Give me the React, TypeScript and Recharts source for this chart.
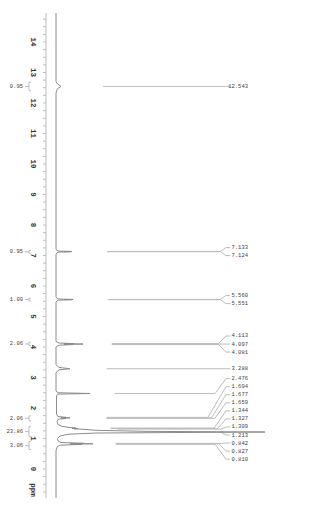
import React from "react";
import {
  ReferenceDot,
  ReferenceLine,
  Scatter,
  ScatterChart,
  XAxis,
  YAxis,
} from "recharts";

// spectrum trace: [ppm, intensity]
const trace: [number, number][] = [
  [14.95, 0], [12.7, 0], [12.62, 1.5], [12.57, 4], [12.543, 5], [12.52, 4], [12.47, 1.5], [12.4, 0.5], [12.3, 0],
  [7.2, 0], [7.145, 2], [7.133, 16], [7.128, 8], [7.124, 15], [7.11, 2], [7.05, 0],
  [5.63, 0], [5.575, 2], [5.56, 17], [5.555, 8], [5.551, 16], [5.535, 2], [5.48, 0],
  [4.18, 0], [4.13, 3], [4.113, 18], [4.105, 8], [4.097, 27], [4.089, 8], [4.081, 17], [4.06, 3], [4.0, 0],
  [3.42, 0], [3.33, 3], [3.288, 14], [3.25, 3], [3.16, 0],
  [2.56, 0], [2.5, 2], [2.476, 34], [2.455, 2], [2.4, 0.5],
  [1.8, 0.5], [1.72, 2], [1.694, 10], [1.686, 5], [1.677, 14], [1.668, 5], [1.659, 10], [1.63, 2], [1.55, 1],
  [1.46, 2], [1.4, 6], [1.36, 14], [1.344, 20], [1.336, 16], [1.327, 22], [1.318, 18], [1.309, 24],
  [1.27, 40], [1.235, 90], [1.213, 209], [1.198, 130], [1.18, 40], [1.14, 12], [1.08, 4], [1.0, 1.5],
  [0.92, 2], [0.87, 5], [0.842, 28], [0.835, 14], [0.827, 37], [0.819, 14], [0.81, 26], [0.78, 4], [0.72, 1], [0.6, 0],
  [-0.95, 0],
];

const peakPpm = [
  12.543, 7.133, 7.124, 5.56, 5.551, 4.113, 4.097, 4.081, 3.288, 2.476,
  1.694, 1.677, 1.659, 1.344, 1.327, 1.309, 1.213, 0.842, 0.827, 0.81,
];

const integralFrom = [12.68, 7.16, 5.6, 4.16, 1.74, 1.4, 0.9];
const integralTo = [12.4, 7.08, 5.51, 4.04, 1.58, 1.06, 0.64];
const integralValues = ["0.95", "0.95", "1.00", "2.06", "2.06", "23.86", "3.06"];

const majorTicks = [0, 1, 2, 3, 4, 5, 6, 7, 8, 9, 10, 11, 12, 13, 14];

const GAP = 0.264; // label spacing in ppm
const LINE = "#bdbdbd";
const FONT = "Liberation Mono, DejaVu Sans Mono, monospace";

const spectrum = trace.map(([ppm, i]) => ({ x: i, y: ppm }));

const ticks: number[] = [];
for (let t = -0.75; t <= 14.75; t += 0.25) ticks.push(Math.round(t * 100) / 100);

// group labels that would overlap and centre each group on its peaks
function layoutLabels(ppms: number[]) {
  let groups = ppms.map((p) => [p]);
  const top = (g: number[]) => (g[0] + g[g.length - 1]) / 2 + ((g.length - 1) * GAP) / 2;
  let merged = true;
  while (merged) {
    merged = false;
    for (let i = 0; i < groups.length - 1; i++) {
      const a = groups[i];
      const b = groups[i + 1];
      const aBottom = top(a) - (a.length - 1) * GAP;
      if (aBottom - top(b) < GAP) {
        groups = [...groups.slice(0, i), [...a, ...b], ...groups.slice(i + 2)];
        merged = true;
        break;
      }
    }
  }
  const out: number[] = [];
  groups.forEach((g) => g.forEach((_, k) => out.push(top(g) - k * GAP)));
  return out;
}

const labelPpm = layoutLabels(peakPpm);

function localMax(ppm: number) {
  let m = 0;
  trace.forEach(([p, i]) => {
    if (Math.abs(p - ppm) <= 0.04) m = Math.max(m, i);
  });
  return m;
}

const PpmTick = (props: any) => {
  const { x, y, payload } = props;
  if (!majorTicks.includes(payload.value)) return <g />;
  const cx = x - 8;
  return (
    <text
      x={cx}
      y={y}
      transform={`rotate(90, ${cx}, ${y})`}
      textAnchor="middle"
      dominantBaseline="central"
      fontSize={7.5}
      fontFamily={FONT}
      fontWeight="bold"
      fill="#333"
    >
      {payload.value}
    </text>
  );
};

const PpmLabel = (props: any) => {
  const vb = props.viewBox;
  const cx = vb.x + vb.width - 13;
  const cy = vb.y + vb.height - 8;
  return (
    <text
      x={cx}
      y={cy}
      transform={`rotate(90, ${cx}, ${cy})`}
      textAnchor="middle"
      dominantBaseline="central"
      fontSize={7.5}
      fontFamily={FONT}
      fontWeight="bold"
      fill="#333"
    >
      ppm
    </text>
  );
};

const smallText = (text: string) => (p: any) => (
  <text
    x={p.cx}
    y={p.cy}
    textAnchor="end"
    dominantBaseline="central"
    fontSize={5.5}
    fontFamily={FONT}
    fill="#444"
  >
    {text}
  </text>
);

export default function App() {
  return (
    <div style={{ position: "absolute", left: 0, top: 0, width: 324, height: 517 }}>
      <ScatterChart
        width={324}
        height={517}
        margin={{ top: 13, right: 8, bottom: 19, left: 0 }}
      >
        <XAxis type="number" dataKey="x" domain={[-10, 260]} hide allowDataOverflow />
        <YAxis
          type="number"
          dataKey="y"
          domain={[-0.95, 14.95]}
          ticks={ticks}
          interval={0}
          width={46}
          tickSize={3}
          tickLine={{ stroke: LINE }}
          axisLine={{ stroke: LINE }}
          tick={<PpmTick />}
          label={{ value: "ppm", content: PpmLabel }}
          allowDataOverflow
        />

        {/* integral brackets on the left */}
        {integralValues.map((v, i) => {
          const from = integralFrom[i];
          const to = integralTo[i];
          const mid = (from + to) / 2;
          return (
            <React.Fragment key={"int" + i}>
              <ReferenceLine ifOverflow="visible" stroke={LINE} segment={[{ x: -27, y: from }, { x: -27, y: to }]} />
              <ReferenceLine ifOverflow="visible" stroke={LINE} segment={[{ x: -27, y: from }, { x: -25, y: from }]} />
              <ReferenceLine ifOverflow="visible" stroke={LINE} segment={[{ x: -27, y: to }, { x: -25, y: to }]} />
              <ReferenceLine ifOverflow="visible" stroke={LINE} segment={[{ x: -31, y: mid }, { x: -27, y: mid }]} />
              <ReferenceDot ifOverflow="visible" x={-33} y={mid} r={0} shape={smallText(v)} />
            </React.Fragment>
          );
        })}

        {/* peak pick connectors and labels */}
        {peakPpm.map((p, i) => {
          const lp = labelPpm[i];
          const elbow = 166 - 14 * Math.abs(lp - p);
          const start = localMax(p) * 0.4 + 45;
          return (
            <React.Fragment key={"pk" + i}>
              {localMax(p) < elbow && (
                <ReferenceLine stroke={LINE} segment={[{ x: start, y: p }, { x: elbow, y: p }]} />
              )}
              <ReferenceLine stroke={LINE} segment={[{ x: elbow, y: p }, { x: 170, y: lp }]} />
              <ReferenceLine stroke={LINE} segment={[{ x: 170, y: lp }, { x: 174, y: lp }]} />
              <ReferenceDot x={192} y={lp} r={0} shape={smallText(p.toFixed(3))} />
            </React.Fragment>
          );
        })}

        <Scatter
          data={spectrum}
          line={{ stroke: "#8c8c8c", strokeWidth: 1 }}
          shape={() => <g />}
          isAnimationActive={false}
        />
      </ScatterChart>
    </div>
  );
}
